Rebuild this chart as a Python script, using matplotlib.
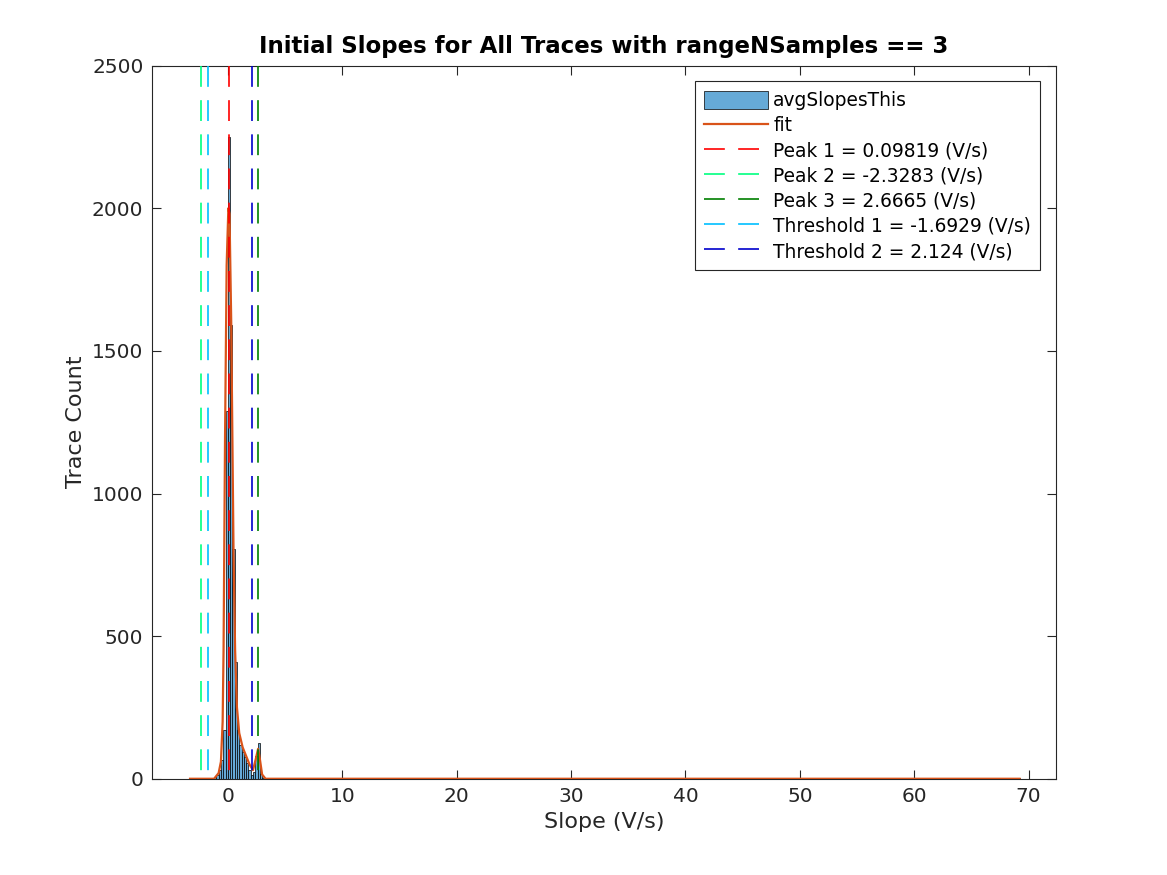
import numpy as np
import matplotlib
matplotlib.use("Agg")
import matplotlib.pyplot as plt

# ---------------------------------------------------------------------------
# Data (bin width 0.2 V/s)
# ---------------------------------------------------------------------------
bin_width = 0.2
bin_centers = [-3.3, -3.1, -2.9, -2.7, -2.5, -2.3, -2.1, -1.9, -1.7, -1.5,
               -1.3, -1.1, -0.9, -0.7, -0.5, -0.3, -0.1, 0.1, 0.3, 0.5,
               0.7, 0.9, 1.1, 1.3, 1.5, 1.7, 1.9, 2.1, 2.3, 2.5,
               2.7, 2.9, 3.1, 3.3, 7.3, 22.5, 69.1]
bin_counts = [0, 3, 2, 0, 2, 0, 0, 0, 0, 0,
              1, 6, 14, 31, 66, 171, 1290, 2250, 1590, 805,
              410, 171, 120, 95, 75, 55, 30, 12, 25, 80,
              125, 15, 3, 0, 3, 3, 3]

# fitted curve (sum of gaussians)
fit_x = [-3.3, -1.2, -0.8, -0.6, -0.45, -0.37, -0.24, -0.1, 0.05, 0.15,
         0.3, 0.4, 0.5, 0.64, 0.8, 1.0, 1.3, 1.6, 1.9, 2.2,
         2.45, 2.65, 2.8, 3.0, 3.3, 69.2]
fit_y = [0, 0, 20, 60, 200, 450, 1200, 1800, 2000, 1980,
         1600, 1200, 800, 450, 250, 160, 110, 80, 50, 30,
         70, 105, 70, 15, 0, 0]

# vertical markers
marker_values = [0.09819, -2.3283, 2.6665, -1.6929, 2.124]
marker_labels = ["Peak 1 = 0.09819 (V/s)", "Peak 2 = -2.3283 (V/s)",
                 "Peak 3 = 2.6665 (V/s)", "Threshold 1 = -1.6929 (V/s)",
                 "Threshold 2 = 2.124 (V/s)"]
marker_colors = ["#ff0000", "#00ff80", "#007f00", "#00bfff", "#0000cc"]

AX_COLOR = "#262626"

fig = plt.figure(figsize=(11.67, 8.75), dpi=100)
ax = fig.add_axes([0.13, 0.11, 0.775, 0.815])

bars = ax.bar(bin_centers, bin_counts, width=bin_width, color="#66aad7",
              edgecolor="black", linewidth=0.5, label="avgSlopesThis", zorder=2)
fit_line, = ax.plot(fit_x, fit_y, color="#d95319", linewidth=1.6,
                    label="fit", zorder=3)

handles = [bars, fit_line]
for val, lbl, col in zip(marker_values, marker_labels, marker_colors):
    h, = ax.plot([val, val], [2500, 0], color=col, linewidth=1.2,
                 dashes=(12.5, 8), label=lbl, zorder=4)
    handles.append(h)

ax.set_xlim(-6.65, 72.4)
ax.set_ylim(0, 2500)
ax.set_xticks(np.arange(0, 71, 10))
ax.set_yticks(np.arange(0, 2501, 500))

ax.tick_params(direction="in", length=6.5, width=0.8, colors=AX_COLOR,
               labelsize=14.5, top=True, right=True, pad=6)
for s in ax.spines.values():
    s.set_color(AX_COLOR)
    s.set_linewidth(0.8)

ax.set_xlabel("Slope (V/s)", fontsize=16, color=AX_COLOR)
ax.set_ylabel("Trace Count", fontsize=16, color=AX_COLOR)
ax.set_title("Initial Slopes for All Traces with rangeNSamples == 3",
             fontsize=16.5, fontweight="bold", color="black", pad=9)

leg = ax.legend(handles=handles, labels=[h.get_label() for h in handles],
                loc="upper right", fontsize=13.4, frameon=True, fancybox=False,
                edgecolor=AX_COLOR, framealpha=1, handlelength=3.4,
                handleheight=1.15, handletextpad=0.3, labelspacing=0.3,
                borderaxespad=0.85, borderpad=0.5)
leg.get_frame().set_linewidth(0.8)

fig.savefig("out.png", dpi=100)
